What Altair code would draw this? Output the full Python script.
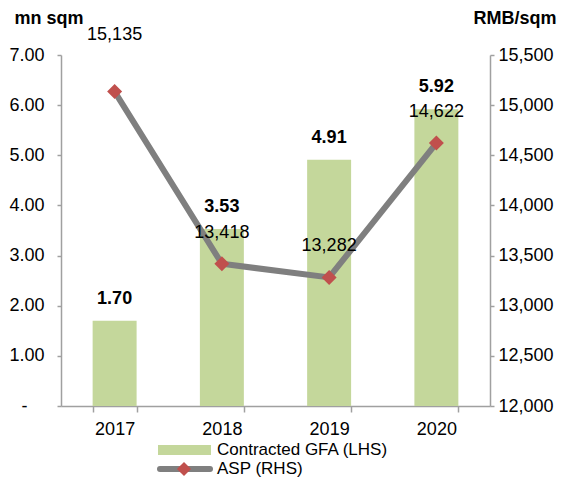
import altair as alt
import pandas as pd

years = ["2017", "2018", "2019", "2020"]
gfa = [1.70, 3.53, 4.91, 5.92]
asp = [15135, 13418, 13282, 14622]
left_ticks = [0, 1, 2, 3, 4, 5, 6, 7]
right_ticks = [12000, 12500, 13000, 13500, 14000, 14500, 15000, 15500]

df = pd.DataFrame({"year": years, "gfa": gfa, "asp": asp})

FONT = "Liberation Sans, Arial, sans-serif"
AXIS_GREY = "#a0a0a0"
BAR_GREEN = "#c4d79b"
LINE_GREY = "#7f7f7f"
RED = "#c0504d"

x = alt.X(
    "year:N",
    scale=alt.Scale(paddingInner=0.59, paddingOuter=0.295),
    axis=alt.Axis(title=None, tickBand="extent", labelAngle=0, labelPadding=8, tickSize=6),
)

base = alt.Chart(df)

y_left = alt.Y(
    "gfa:Q",
    scale=alt.Scale(domain=[0, 7], nice=False),
    axis=alt.Axis(
        orient="left", values=left_ticks,
        labelExpr="datum.value == 0 ? '-' : format(datum.value, '.2f')",
        labelPadding={"condition": {"test": "datum.value == 0", "value": 30}, "value": 13},
        tickSize=4,
        title="mn sqm", titleAngle=0, titleX=-47, titleY=-37, titleAlign="left",
        titleBaseline="middle", titleFontWeight="bold", titleFontSize=18,
    ),
)

bars = base.mark_bar(color=BAR_GREEN).encode(x=x, y=y_left)
bar_text = base.mark_text(dy=-22, fontWeight="bold", fontSize=18, font=FONT, color="black").encode(
    x=x, y=y_left, text=alt.Text("gfa:Q", format=".2f")
)

y_right = alt.Y(
    "asp:Q",
    scale=alt.Scale(domain=[12000, 15500], nice=False, zero=False),
    axis=alt.Axis(
        orient="right", values=right_ticks, labelExpr="format(datum.value, ',')",
        labelPadding=4, tickSize=4,
        title="RMB/sqm", titleAngle=0, titleX=66, titleY=-37, titleAlign="right",
        titleBaseline="middle", titleFontWeight="bold", titleFontSize=18,
    ),
)

line = base.mark_line(color=LINE_GREY, strokeWidth=6).encode(x=x, y=y_right)
pts = base.mark_point(shape="diamond", filled=True, size=225, color=RED, opacity=1).encode(x=x, y=y_right)
t_first = base.transform_filter(alt.datum.year == "2017").mark_text(
    dy=-57, fontSize=18, font=FONT, color="black"
).encode(x=x, y=y_right, text=alt.Text("asp:Q", format=","))
t_rest = base.transform_filter(alt.datum.year != "2017").mark_text(
    dy=-31, fontSize=18, font=FONT, color="black"
).encode(x=x, y=y_right, text=alt.Text("asp:Q", format=","))

left = alt.layer(bars, bar_text)
right = alt.layer(line, pts, t_first, t_rest)

one = alt.Chart(pd.DataFrame({"k": [0]}))
leg_rect = one.mark_rect(color=BAR_GREEN).encode(
    x=alt.value(97), x2=alt.value(150), y=alt.value(390), y2=alt.value(400)
)
leg_t1 = one.mark_text(text="Contracted GFA (LHS)", align="left", baseline="middle", fontSize=17, font=FONT, color="black").encode(
    x=alt.value(156), y=alt.value(395)
)
leg_rule = one.mark_rule(color=LINE_GREY, strokeWidth=6, strokeCap="round").encode(
    x=alt.value(99), x2=alt.value(149), y=alt.value(414)
)
leg_pt = one.mark_point(shape="diamond", filled=True, size=200, color=RED, opacity=1).encode(
    x=alt.value(123), y=alt.value(414)
)
leg_t2 = one.mark_text(text="ASP (RHS)", align="left", baseline="middle", fontSize=17, font=FONT, color="black").encode(
    x=alt.value(156), y=alt.value(414)
)

chart = alt.layer(left, right, leg_rect, leg_t1, leg_rule, leg_pt, leg_t2).resolve_scale(
    y="independent"
).properties(
    width=429, height=351,
    autosize=alt.AutoSizeParams(type="none"),
    padding={"left": 53, "top": 47, "right": 68, "bottom": 72},
).configure_view(stroke=None).configure_axis(
    domainColor=AXIS_GREY, tickColor=AXIS_GREY, domainWidth=1.5, tickWidth=1.5,
    labelFont=FONT, labelFontSize=18, labelColor="black", titleFont=FONT, titleColor="black",
    grid=False,
)

chart.save("out.html", embed_options={"renderer": "svg", "actions": False})
